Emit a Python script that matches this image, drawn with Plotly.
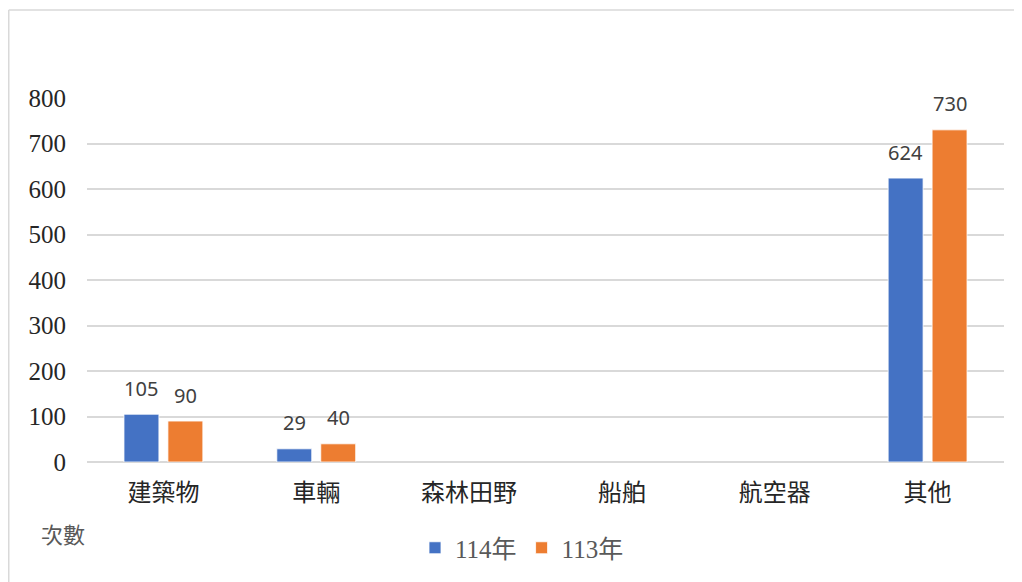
import plotly.graph_objects as go

categories = ["建築物", "車輛", "森林田野", "船舶", "航空器", "其他"]
series_names = ["114年", "113年"]
values_114 = [105, 29, None, None, None, 624]
values_113 = [90, 40, None, None, None, 730]
y_ticks = [0, 100, 200, 300, 400, 500, 600, 700, 800]
colors = ["#4472C4", "#ED7D31"]

OFF = 8  # page body margin
W, H = 1022 - OFF, 582 - OFF
# plot area in screen pixels: x 87..1004, y 98..462
ML, MT = 87 - OFF, 98 - OFF
MR = W - (1004 - OFF)
MB = H - (462 - OFF)
PW, PH = W - ML - MR, H - MT - MB

def px_x(sx):
    return (sx - OFF - ML) / PW

def px_y(sy):
    return (H - MB - (sy - OFF)) / PH

fig = go.Figure()
for name, vals, col in zip(series_names, [values_114, values_113], colors):
    fig.add_trace(go.Bar(
        x=categories, y=vals, name=name,
        marker=dict(color=col, line=dict(color="white", width=0.8)),
    ))

# data labels
slot = 44
for vals, sh in [(values_114, -slot / 2), (values_113, slot / 2)]:
    for c, v in zip(categories, vals):
        if v is None:
            continue
        fig.add_annotation(
            x=c, y=v, text=str(v), showarrow=False,
            xshift=sh, yshift=26, xref="x", yref="y",
            xanchor="center", yanchor="middle",
            font=dict(family="Noto Sans, DejaVu Sans", size=20, color="#404040"),
        )

fig.add_annotation(
    x=px_x(63), y=px_y(533), xref="paper", yref="paper", text="次數",
    xanchor="center", yanchor="middle",
    showarrow=False, font=dict(family="Noto Sans CJK TC", size=22, color="#595959"),
)

line_style = dict(color="#D9D9D9", width=1.5)
fig.add_shape(type="line", xref="paper", yref="paper",
              x0=px_x(8.75), x1=px_x(1030), y0=px_y(10), y1=px_y(10), line=line_style)
fig.add_shape(type="line", xref="paper", yref="paper",
              x0=px_x(8.75), x1=px_x(8.75), y0=px_y(10), y1=px_y(590), line=line_style)

fig.update_layout(
    width=W, height=H,
    margin=dict(l=ML, r=MR, t=MT, b=MB, autoexpand=False),
    paper_bgcolor="white", plot_bgcolor="white",
    barmode="group", bargap=0.425, bargroupgap=0.205,
    showlegend=True,
    legend=dict(
        orientation="h", x=px_x(522), xanchor="center", y=px_y(548), yanchor="middle",
        font=dict(family="Liberation Serif, Noto Sans CJK TC", size=25, color="#595959"),
        itemwidth=30, tracegroupgap=0, bgcolor="rgba(0,0,0,0)",
    ),
    xaxis=dict(
        type="category", showgrid=False, zeroline=False, showline=False, ticks="",
        tickfont=dict(family="Noto Sans CJK TC", size=24, color="#262626"),
        ticklabelstandoff=14,
    ),
    yaxis=dict(
        range=[0, 800], tickvals=y_ticks, ticktext=[str(t) for t in y_ticks],
        showgrid=True, gridcolor="#D9D9D9", gridwidth=1.5,
        zeroline=True, zerolinecolor="#D9D9D9", zerolinewidth=1.5,
        showline=False, ticks="",
        tickfont=dict(family="Liberation Serif", size=25, color="#262626"),
        ticklabelstandoff=20,
    ),
)

fig.write_html("out.html")
